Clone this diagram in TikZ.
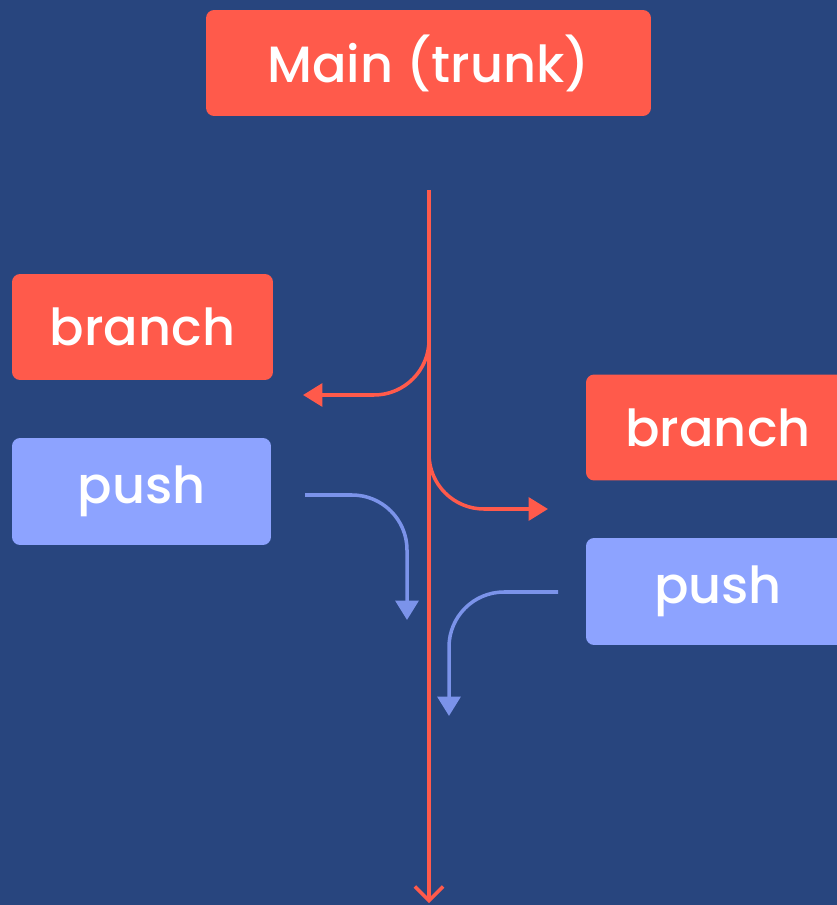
\documentclass[tikz,border=0pt]{standalone}
\usepackage{fontspec}
\setmainfont{Poppins Medium}
\usetikzlibrary{arrows.meta}
\definecolor{bgblue}{HTML}{28457E}
\definecolor{mainred}{HTML}{FF5A4B}
\definecolor{pushblue}{HTML}{8DA3FF}
\definecolor{pushline}{HTML}{7B93EA}

\begin{document}
\begin{tikzpicture}[x=0.02cm,y=-0.02cm]
          \tikzstyle{box}=[rounded corners=0.16cm, text=white, inner sep=0pt, font=\fontsize{29}{35}\selectfont]
          \tikzstyle{redbox}=[box, fill=mainred, minimum height=2.12cm]
          \tikzstyle{bluebox}=[box, fill=pushblue, minimum height=2.14cm]
          \tikzstyle{redarrow}=[draw=mainred, line width=2pt, rounded corners=1.1cm, -{Triangle[length=11pt,width=13pt]}]
          \tikzstyle{bluearrow}=[draw=pushline, line width=2pt, rounded corners=1.1cm, -{Triangle[length=11pt,width=13pt]}]
          \useasboundingbox (0,0) rectangle (837,905);
          \fill[bgblue] (0,0) rectangle (837,905);
          \node[redbox, minimum width=8.9cm] (main) at (428.5,63) {Main (trunk)};
          \node[redbox, minimum width=5.22cm] (branchL) at (142.5,327) {branch};
          \node[bluebox, minimum width=5.18cm] (pushL) at (141.5,491.5) {push};
          \node[redbox, minimum width=5.28cm] (branchR) at (718,427.5) {branch};
          \node[bluebox, minimum width=5.28cm] (pushR) at (718,591.5) {push};
          \coordinate (trunktop) at (429,190);
          \coordinate (trunkend) at (429,903);
          \draw[draw=mainred, line width=2pt, -{Straight Barb[length=8pt,width=16pt]}] (trunktop) -- (trunkend);
          \coordinate (bL0) at (429,298);
          \coordinate (bL1) at (303,395);
          \draw[redarrow] (bL0) |- (bL1);
          \coordinate (bR0) at (429,447);
          \coordinate (bR1) at (548,509);
          \draw[redarrow] (bR0) |- (bR1);
          \coordinate (pL0) at (305,495);
          \coordinate (pL1) at (407,620);
          \draw[bluearrow] (pL0) -| (pL1);
          \coordinate (pR0) at (558,592);
          \coordinate (pR1) at (449,716);
          \draw[bluearrow] (pR0) -| (pR1);
      \end{tikzpicture}
\end{document}
